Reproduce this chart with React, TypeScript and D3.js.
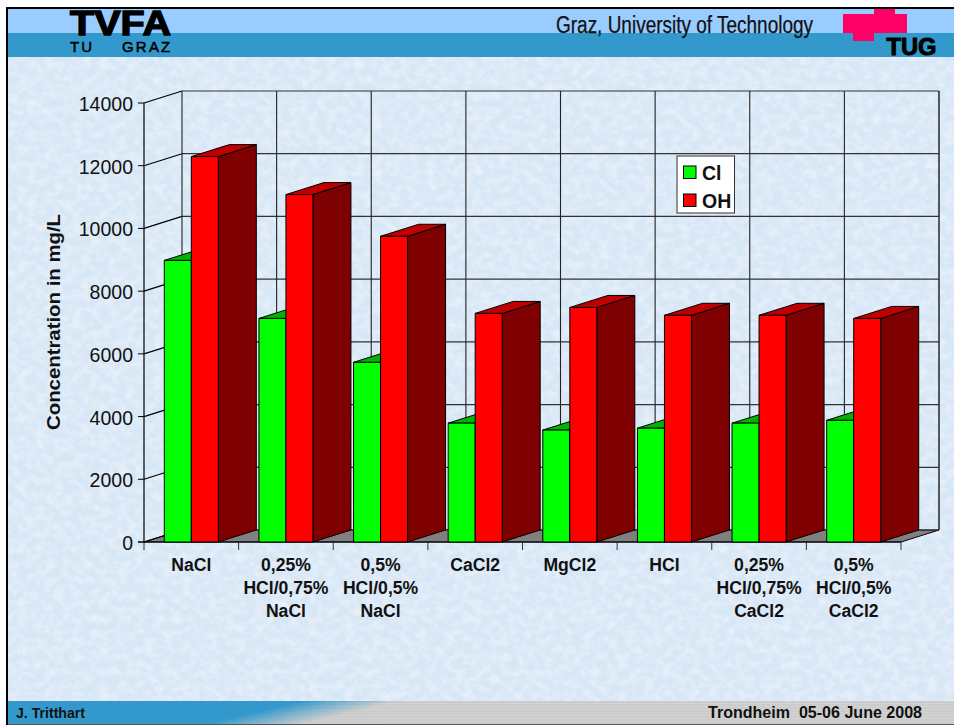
import React from "react";
import * as d3 from "d3";

const categories = ["NaCl", "0,25%|HCl/0,75%|NaCl", "0,5%|HCl/0,5%|NaCl", "CaCl2", "MgCl2", "HCl", "0,25%|HCl/0,75%|CaCl2", "0,5%|HCl/0,5%|CaCl2"];
const clValues = [8980, 7130, 5730, 3790, 3570, 3630, 3790, 3880];
const ohValues = [12290, 11080, 9750, 7290, 7480, 7230, 7230, 7130];
const yTicks = [0, 2000, 4000, 6000, 8000, 10000, 12000, 14000];
const seriesNames = ["Cl", "OH"];
const frontColors = ["#00ff00", "#ff0000"];
const topColors = ["#00b400", "#c00000"];
const sideColors = ["#007f00", "#7f0000"];

const FONT = "'Liberation Sans', Arial, sans-serif";
const left = 144, right = 901, top = 103, bottom = 542, dx = 38, dy = -12;

export default function App() {
  const y = d3.scaleLinear().domain([0, 14000]).range([bottom, top]);
  const x = d3.scaleBand<string>().domain(categories).range([left, right]).paddingInner(0.429).paddingOuter(0.2145);
  const inner = d3.scaleBand<string>().domain(seriesNames).range([0, x.bandwidth()]);
  const step = x.step();
  const edges = d3.range(categories.length + 1).map((i) => left + i * step);
  const pts = (a: number[][]) => a.map((p) => p.join(",")).join(" ");
  const line = d3.line();

  return (
    <svg width={954} height={725} style={{ position: "absolute", left: 0, top: 0, display: "block" }} fontFamily={FONT}>
      <defs>
        <filter id="tex" x="0" y="0" width="100%" height="100%" colorInterpolationFilters="sRGB">
          <feTurbulence type="fractalNoise" baseFrequency="0.11 0.13" numOctaves={4} seed={7} />
          <feColorMatrix type="matrix" values="0 0 0 0 1  0 0 0 0 1  0 0 0 0 1  2.2 0 0 0 -0.85" />
        </filter>
        <linearGradient id="foot" gradientUnits="userSpaceOnUse" x1={200} y1={725} x2={205} y2={746.5}>
          <stop offset="0" stopColor="#3399cc" />
          <stop offset="1" stopColor="#cccccc" />
        </linearGradient>
        <linearGradient id="footStripeFade" gradientUnits="userSpaceOnUse" x1={260} y1={0} x2={420} y2={0}>
          <stop offset="0" stopColor="#fff" stopOpacity={0} />
          <stop offset="1" stopColor="#fff" stopOpacity={0.14} />
        </linearGradient>
      </defs>
      <rect width={954} height={725} fill="#ffffff" />
      <rect x={8} y={57} width={946} height={645} fill="#d8e7f6" />
      <rect x={8} y={57} width={946} height={645} filter="url(#tex)" opacity={0.42} />

      {/* header */}
      <rect x={8} y={9} width={946} height={24} fill="#99ccff" />
      <rect x={8} y={33} width={946} height={24} fill="#3399cc" />
      <rect x={6} y={7} width={948} height={2} fill="#000" />
      <rect x={6} y={7} width={2} height={718} fill="#000" />
      <text x={70} y={35} fontSize={35} fontWeight={700} stroke="#000" strokeWidth={1.4} textLength={101} lengthAdjust="spacingAndGlyphs">TVFA</text>
      <text x={70} y={52} fontSize={15} fontWeight={400} stroke="#000" strokeWidth={0.5} letterSpacing={2.2}>TU</text>
      <text x={122} y={52} fontSize={15} fontWeight={400} stroke="#000" strokeWidth={0.5} letterSpacing={2.2}>GRAZ</text>
      <text x={556} y={33} fontSize={23} textLength={257} lengthAdjust="spacingAndGlyphs" fill="#111" stroke="#111" strokeWidth={0.25}>Graz, University of Technology</text>
      <polygon fill="#ff0066" points={pts([[843, 14], [874, 14], [874, 9], [895, 9], [895, 14], [907, 14], [907, 33], [874, 33], [874, 41], [853, 41], [853, 33], [843, 33]])} />
      <text x={886.5} y={55} fontSize={24} fontWeight={700} stroke="#000" strokeWidth={1} textLength={50} lengthAdjust="spacingAndGlyphs">TUG</text>

      {/* footer */}
      <rect x={8} y={701} width={946} height={24} fill="url(#foot)" />
      {d3.range(703, 724, 3).map((yy) => (
        <rect key={yy} x={260} y={yy} width={694} height={1} fill="url(#footStripeFade)" />
      ))}
      <rect x={8} y={724} width={946} height={1} fill="#555" />
      <text x={16} y={718} fontSize={15} fontWeight={700} fill="#111" textLength={69} lengthAdjust="spacingAndGlyphs">J. Tritthart</text>
      <text x={708} y={718} fontSize={16} fontWeight={700} fill="#111" xmlSpace="preserve" textLength={214} lengthAdjust="spacingAndGlyphs">Trondheim  05-06 June 2008</text>

      {/* floor and walls */}
      <polygon fill="#808080" stroke="#000" strokeWidth={1} points={pts([[left, bottom], [left + dx, bottom + dy], [right + dx, bottom + dy], [right, bottom]])} />
      {yTicks.map((t) => (
        <g key={t}>
          <path d={line([[left + dx, y(t) + dy], [right + dx, y(t) + dy]])!} stroke="#333" strokeWidth={1.2} fill="none" />
          <path d={line([[left, y(t)], [left + dx, y(t) + dy]])!} stroke="#000" strokeWidth={1.2} fill="none" />
          <path d={line([[left - 6, y(t)], [left, y(t)]])!} stroke="#000" strokeWidth={1} fill="none" />
          <text x={133} y={y(t) + 8} textAnchor="end" fontSize={19.5} fill="#111">{t}</text>
        </g>
      ))}
      {edges.map((e, i) => (
        <path key={i} d={line([[e + dx, top + dy], [e + dx, bottom + dy]])!} stroke={i === categories.length ? "#333" : "#222"} strokeWidth={i === categories.length ? 1.6 : 1.1} fill="none" />
      ))}
      {edges.map((e, i) => (
        <path key={i} d={line([[e, bottom], [e, bottom + 8]])!} stroke="#333" strokeWidth={1} fill="none" />
      ))}
      <path d={line([[left, top], [left, bottom]])!} stroke="#000" strokeWidth={1.2} fill="none" />
      <path d={line([[left - 6, bottom], [right, bottom]])!} stroke="#000" strokeWidth={1.2} fill="none" />

      {/* bars */}
      {categories.map((c, i) =>
        [clValues[i], ohValues[i]].map((v, s) => {
          const x0 = x(c)! + inner(seriesNames[s])!;
          const x1 = x0 + inner.bandwidth();
          const yt = y(v);
          const st = { stroke: "#000", strokeWidth: 1, strokeLinejoin: "round" as const };
          return (
            <g key={c + s}>
              <polygon {...st} fill={sideColors[s]} points={pts([[x1, yt], [x1 + dx, yt + dy], [x1 + dx, bottom + dy], [x1, bottom]])} />
              <polygon {...st} fill={topColors[s]} points={pts([[x0, yt], [x0 + dx, yt + dy], [x1 + dx, yt + dy], [x1, yt]])} />
              <rect {...st} x={x0} y={yt} width={x1 - x0} height={bottom - yt} fill={frontColors[s]} />
            </g>
          );
        })
      )}

      {/* category labels */}
      {categories.map((c, i) => (
        <text key={c} textAnchor="middle" fontSize={17.6} fontWeight={700} fill="#111">
          {c.split("|").map((l, j) => (
            <tspan key={j} x={left + (i + 0.5) * step} y={570.5 + j * 23}>{l}</tspan>
          ))}
        </text>
      ))}

      <text transform="translate(60,322) rotate(-90)" textAnchor="middle" fontSize={18.5} fontWeight={700} fill="#111" textLength={216} lengthAdjust="spacingAndGlyphs">Concentration in mg/L</text>

      {/* legend */}
      <rect x={677} y={156} width={57.5} height={57} fill="#fff" stroke="#333" strokeWidth={1} />
      {seriesNames.map((n, i) => (
        <g key={n}>
          <rect x={683.5} y={166 + i * 28} width={12.5} height={12.5} fill={frontColors[i]} stroke="#000" strokeWidth={1} />
          <text x={702} y={179.5 + i * 28} fontSize={19.5} fontWeight={700} fill="#111">{n}</text>
        </g>
      ))}
    </svg>
  );
}
